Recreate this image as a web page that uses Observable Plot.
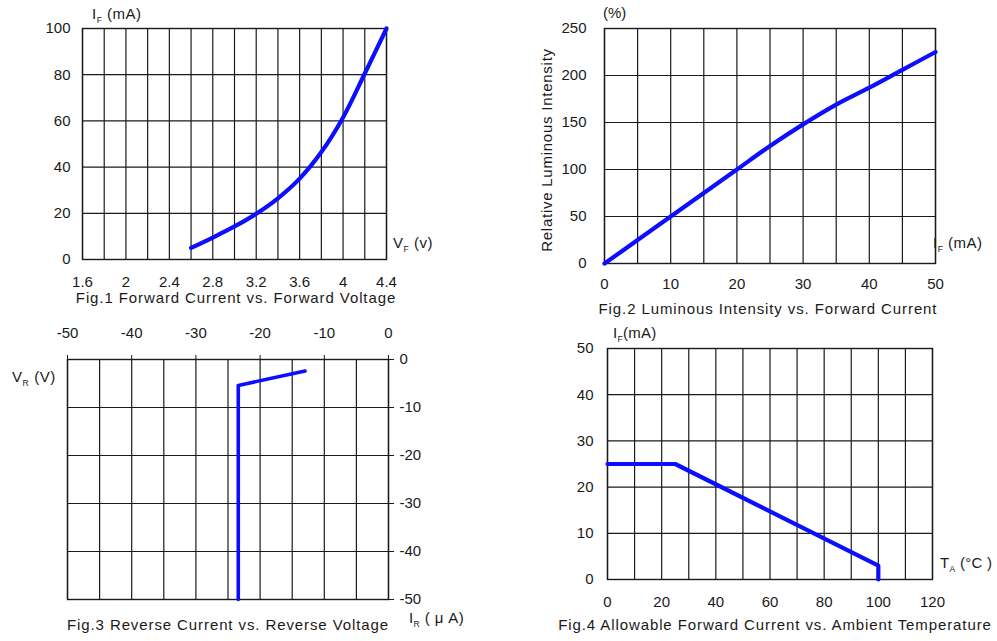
<!DOCTYPE html>
<html>
<head>
<meta charset="utf-8">
<script src="https://cdn.jsdelivr.net/npm/d3@7"></script>
<script src="https://cdn.jsdelivr.net/npm/@observablehq/plot@0.6"></script>
<style>
  html, body { margin: 0; padding: 0; background: #fff; }
  #wrap { position: relative; width: 997px; height: 641px; background: #fff; overflow: hidden; }
  #wrap > svg { position: absolute; }
</style>
</head>
<body>
<div id="wrap"></div>
<script>
// ---------- Fig.1 Forward Current vs. Forward Voltage ----------
const vf1 = [2.6, 2.8, 3.0, 3.2, 3.4, 3.6, 3.8, 4.0, 4.2, 4.4];
const if1 = [5, 9.5, 14.3, 19.8, 26.5, 35, 46.5, 61.5, 80.5, 100];
const xTicks1 = [1.6, 2, 2.4, 2.8, 3.2, 3.6, 4, 4.4];
const xGrid1 = [1.6, 1.8, 2, 2.2, 2.4, 2.6, 2.8, 3, 3.2, 3.4, 3.6, 3.8, 4, 4.2, 4.4];
const yTicks1 = [0, 20, 40, 60, 80, 100];

// ---------- Fig.2 Luminous Intensity vs. Forward Current ----------
const if2 = [0, 5, 10, 15, 20, 25, 30, 35, 40, 45, 50];
const lum2 = [0, 25, 50, 75, 100, 125, 148, 169, 187, 206, 225];
const xTicks2 = [0, 10, 20, 30, 40, 50];
const xGrid2 = [0, 5, 10, 15, 20, 25, 30, 35, 40, 45, 50];
const yTicks2 = [0, 50, 100, 150, 200, 250];

// ---------- Fig.3 Reverse Current vs. Reverse Voltage ----------
const ir3 = [-23.4, -23.4, -13];
const vr3 = [-50, -5.4, -2.4];
const xTicks3 = [-50, -40, -30, -20, -10, 0];
const xGrid3 = [-50, -45, -40, -35, -30, -25, -20, -15, -10, -5, 0];
const yTicks3 = [0, -10, -20, -30, -40, -50];

// ---------- Fig.4 Allowable Forward Current vs. Ambient Temperature ----------
const ta4 = [0, 25, 100, 100];
const if4 = [25, 25, 3, 0];
const xTicks4 = [0, 20, 40, 60, 80, 100, 120];
const xGrid4 = [0, 10, 20, 30, 40, 50, 60, 70, 80, 90, 100, 110, 120];
const yTicks4 = [0, 10, 20, 30, 40, 50];

const INK = "#1a1a1a";
const BLUE = "#0d0dff";
const FONT = "'Liberation Sans', Arial, sans-serif";
const fmt = d => String(d);

const wrap = document.getElementById("wrap");

function place(svg, left, top) {
  svg.style.left = left + "px";
  svg.style.top = top + "px";
  wrap.appendChild(svg);
  return d3.select(svg);
}

// label made of [text, isSubscript] pieces
function label(sel, x, y, parts, opts = {}) {
  const t = sel.append("text")
    .attr("x", x).attr("y", y)
    .attr("fill", INK)
    .attr("font-family", FONT)
    .attr("font-size", opts.size || 15)
    .attr("text-anchor", opts.anchor || "start");
  if (opts.rotate) t.attr("transform", `rotate(${opts.rotate},${x},${y})`);
  if (opts.spacing != null) t.attr("letter-spacing", opts.spacing);
  let sub = false;
  for (const [txt, isSub] of parts) {
    const s = t.append("tspan").text(txt);
    if (isSub && !sub) { s.attr("font-size", 8.5).attr("dy", 4); sub = true; }
    else if (!isSub && sub) { s.attr("dy", -4); sub = false; }
  }
  return t;
}
const CAP = { anchor: "middle", spacing: 0.9 };

const baseStyle = { fontFamily: FONT, fontSize: "15px", color: INK, background: "transparent", overflow: "visible" };
const gridOpt = { stroke: INK, strokeOpacity: 1, strokeWidth: 1.2 };

// ---- Fig 1 ----
const d1 = vf1.map((v, i) => ({ v, i: if1[i] }));
const p1 = Plot.plot({
  width: 420, height: 310,
  marginLeft: 82, marginRight: 34, marginTop: 28, marginBottom: 51,
  style: baseStyle,
  x: { domain: [1.6, 4.4] },
  y: { domain: [0, 100] },
  marks: [
    Plot.gridX(xGrid1, gridOpt),
    Plot.gridY(yTicks1, gridOpt),
    Plot.frame({ stroke: INK, strokeWidth: 1.4 }),
    Plot.axisX(xTicks1, { tickSize: 0, tickPadding: 17, tickFormat: fmt, label: null }),
    Plot.axisY(yTicks1, { tickSize: 0, tickPadding: 12, tickFormat: fmt, label: null }),
    Plot.line(d1, { x: "v", y: "i", stroke: BLUE, strokeWidth: 4.2, curve: "catmull-rom" })
  ]
});
const s1 = place(p1, 0, 0);
label(s1, 92, 19, [["I", false], ["F", true], [" (mA)", false]], { spacing: 0.5 });
label(s1, 393, 248, [["V", false], ["F", true], [" (v)", false]], { spacing: 0.5 });
label(s1, 236, 303, [["Fig.1 Forward Current vs. Forward Voltage", false]], CAP);

// ---- Fig 2 ----
const d2 = if2.map((c, i) => ({ c, l: lum2[i] }));
const p2 = Plot.plot({
  width: 477, height: 320,
  marginLeft: 84, marginRight: 62, marginTop: 28, marginBottom: 57,
  style: baseStyle,
  x: { domain: [0, 50] },
  y: { domain: [0, 250] },
  marks: [
    Plot.gridX(xGrid2, gridOpt),
    Plot.gridY(yTicks2, gridOpt),
    Plot.frame({ stroke: INK, strokeWidth: 1.4 }),
    Plot.axisX(xTicks2, { tickSize: 0, tickPadding: 15, tickFormat: fmt, label: null }),
    Plot.axisY(yTicks2, { tickSize: 0, tickPadding: 18, tickFormat: fmt, label: null }),
    Plot.line(d2, { x: "c", y: "l", stroke: BLUE, strokeWidth: 4.2, curve: "monotone-x" })
  ]
});
const s2 = place(p2, 520, 0);
label(s2, 83, 18, [["(%)", false]]);
label(s2, 32, 150, [["Relative Luminous Intensity", false]], { anchor: "middle", rotate: -90, spacing: 0.75 });
label(s2, 413, 248, [["I", false], ["F", true], [" (mA)", false]], { spacing: 0.5 });
label(s2, 248, 314, [["Fig.2 Luminous Intensity vs. Forward Current", false]], CAP);

// ---- Fig 3 ----
const d3d = ir3.map((c, i) => ({ c, v: vr3[i] }));
const p3 = Plot.plot({
  width: 480, height: 321,
  marginLeft: 67, marginRight: 92, marginTop: 39, marginBottom: 42,
  style: baseStyle,
  x: { domain: [-50, 0] },
  y: { domain: [-50, 0] },
  marks: [
    Plot.gridX(xGrid3, gridOpt),
    Plot.gridY(yTicks3, gridOpt),
    Plot.frame({ stroke: INK, strokeWidth: 1.4 }),
    Plot.axisX(xTicks3, { anchor: "top", tickSize: 5, tickPadding: 17, tickFormat: fmt, label: null, stroke: INK }),
    Plot.axisY(yTicks3, { anchor: "right", tickSize: 5, tickPadding: 6, tickFormat: fmt, label: null, stroke: INK }),
    Plot.line(d3d, { x: "c", y: "v", stroke: BLUE, strokeWidth: 3.6 })
  ]
});
const s3 = place(p3, 0, 320);
label(s3, 12, 62, [["V", false], ["R", true], [" (V)", false]], { spacing: 0.6 });
label(s3, 409, 303, [["I", false], ["R", true], [" ( \u03BC A)", false]], { spacing: 0.4 });
label(s3, 228, 310, [["Fig.3 Reverse Current vs. Reverse Voltage", false]], CAP);

// ---- Fig 4 ----
const d4 = ta4.map((t, i) => ({ t, i: if4[i] }));
const p4 = Plot.plot({
  width: 457, height: 321,
  marginLeft: 67, marginRight: 65, marginTop: 28, marginBottom: 62,
  style: baseStyle,
  x: { domain: [0, 120] },
  y: { domain: [0, 50] },
  marks: [
    Plot.gridX(xGrid4, gridOpt),
    Plot.gridY(yTicks4, gridOpt),
    Plot.frame({ stroke: INK, strokeWidth: 1.4 }),
    Plot.axisX(xTicks4, { tickSize: 0, tickPadding: 17, tickFormat: fmt, label: null }),
    Plot.axisY(yTicks4, { tickSize: 0, tickPadding: 14, tickFormat: fmt, label: null }),
    Plot.line(d4, { x: "t", y: "i", stroke: BLUE, strokeWidth: 4.2 })
  ]
});
const s4 = place(p4, 540, 320);
label(s4, 73, 18, [["I", false], ["F", true], ["(mA)", false]], { spacing: 0.3 });
label(s4, 400, 248, [["T", false], ["A", true], [" (\u00B0C )", false]], { spacing: 0.3 });
label(s4, 235, 310, [["Fig.4 Allowable Forward Current vs. Ambient Temperature", false]], CAP);
</script>
</body>
</html>
